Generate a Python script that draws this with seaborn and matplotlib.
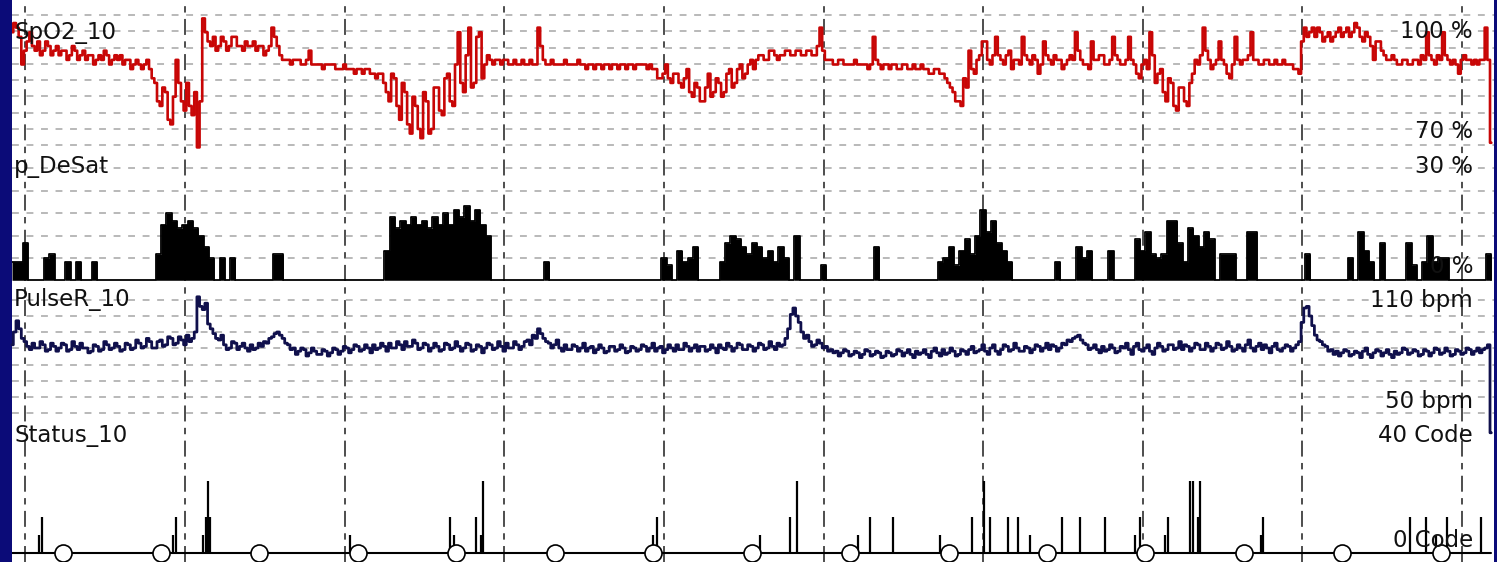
import numpy as np
import pandas as pd
import matplotlib
matplotlib.use("Agg")
import matplotlib.pyplot as plt
import seaborn as sns

sns.set_theme(style="white")
plt.rcParams['font.family'] = ['DejaVu Sans']

# ---- oximetry traces, one sample per minute ----
spo2 = [
    95, 97, 96, 94, 88, 91, 93, 95, 92, 91,
    93, 90, 91, 93, 92, 90, 91, 92, 90, 91,
    91, 89, 90, 92, 91, 89, 90, 91, 89, 90,
    90, 88, 89, 90, 89, 91, 90, 88, 89, 90,
    89, 90, 88, 89, 89, 87, 88, 89, 88, 87,
    88, 89, 87, 85, 84, 80, 79, 83, 82, 76,
    75, 81, 89, 84, 80, 78, 84, 79, 77, 82,
    70, 80, 98, 95, 93, 92, 94, 91, 92, 94,
    93, 91, 92, 94, 94, 92, 92, 91, 93, 92,
    92, 93, 91, 92, 92, 90, 91, 92, 96, 94,
    92, 90, 89, 89, 89, 88, 89, 89, 89, 88,
    88, 89, 91, 88, 88, 88, 88, 87, 88, 88,
    88, 88, 87, 87, 87, 88, 87, 87, 87, 86,
    87, 87, 86, 87, 87, 86, 86, 85, 86, 86,
    84, 82, 80, 86, 85, 79, 76, 84, 82, 75,
    73, 81, 79, 74, 72, 82, 80, 73, 74, 83,
    83, 78, 77, 85, 86, 80, 79, 88, 95, 84,
    82, 90, 96, 83, 84, 94, 95, 85, 88, 90,
    89, 88, 89, 89, 88, 89, 89, 88, 88, 89,
    88, 88, 89, 88, 88, 89, 88, 88, 96, 92,
    89, 88, 88, 89, 88, 88, 88, 88, 89, 88,
    88, 88, 88, 89, 88, 88, 87, 88, 88, 87,
    88, 88, 87, 88, 88, 87, 88, 88, 87, 88,
    88, 87, 88, 88, 87, 88, 88, 88, 88, 87,
    88, 87, 87, 85, 85, 86, 88, 85, 84, 86,
    86, 84, 83, 85, 87, 82, 81, 84, 83, 80,
    80, 83, 86, 81, 82, 85, 84, 81, 82, 86,
    87, 83, 84, 87, 88, 85, 86, 88, 89, 87,
    89, 90, 90, 89, 89, 91, 91, 90, 89, 90,
    90, 91, 91, 90, 90, 91, 91, 90, 90, 91,
    91, 90, 90, 92, 96, 91, 89, 89, 89, 88,
    88, 89, 89, 88, 88, 88, 88, 89, 88, 88,
    88, 88, 87, 88, 94, 89, 88, 87, 88, 88,
    87, 88, 88, 87, 87, 88, 88, 87, 87, 88,
    87, 87, 88, 87, 87, 86, 86, 87, 87, 86,
    86, 85, 84, 83, 82, 80, 80, 79, 85, 83,
    91, 87, 86, 89, 90, 93, 93, 89, 88, 90,
    94, 90, 89, 88, 90, 91, 87, 89, 89, 88,
    94, 90, 89, 88, 90, 89, 86, 88, 93, 90,
    89, 88, 90, 89, 89, 87, 88, 89, 90, 89,
    95, 91, 89, 88, 88, 87, 93, 89, 89, 90,
    90, 88, 88, 89, 94, 90, 89, 88, 88, 89,
    94, 89, 88, 86, 85, 88, 89, 87, 95, 90,
    84, 86, 87, 82, 80, 85, 84, 79, 78, 83,
    83, 80, 79, 84, 86, 89, 88, 90, 96, 91,
    89, 87, 88, 89, 93, 89, 88, 86, 85, 88,
    94, 89, 88, 89, 89, 90, 95, 89, 89, 88,
    88, 89, 89, 88, 88, 89, 88, 88, 89, 88,
    88, 88, 87, 87, 86, 93, 96, 94, 95, 96,
    94, 96, 95, 93, 94, 95, 93, 94, 95, 96,
    94, 95, 96, 94, 95, 97, 96, 94, 93, 95,
    94, 92, 89, 93, 93, 91, 90, 89, 89, 90,
    89, 88, 88, 89, 89, 88, 88, 89, 89, 88,
    90, 89, 95, 90, 89, 88, 90, 89, 95, 90,
    89, 88, 89, 88, 86, 89, 90, 89, 89, 88,
    89, 88, 89, 89, 96, 89, 71,
]

pulse = [
    82, 90, 97, 92, 86, 84, 81, 79, 83, 80,
    80, 84, 82, 78, 79, 83, 81, 78, 80, 83,
    82, 78, 79, 84, 81, 79, 83, 80, 80, 77,
    78, 82, 81, 78, 79, 84, 82, 79, 80, 83,
    81, 78, 79, 83, 82, 79, 80, 85, 83, 80,
    81, 86, 84, 80, 80, 84, 85, 81, 82, 87,
    86, 82, 83, 87, 85, 82, 88, 84, 86, 90,
    112, 106, 104, 108, 95, 92, 89, 86, 85, 88,
    82, 79, 80, 84, 83, 79, 81, 83, 80, 78,
    82, 79, 80, 83, 81, 84, 83, 86, 87, 89,
    90, 88, 86, 83, 82, 79, 80, 76, 78, 80,
    79, 75, 77, 80, 78, 76, 76, 79, 78, 75,
    77, 80, 79, 76, 78, 81, 80, 77, 79, 82,
    81, 78, 79, 82, 80, 77, 82, 79, 80, 83,
    81, 78, 83, 80, 80, 84, 82, 79, 84, 81,
    81, 85, 83, 79, 80, 83, 82, 78, 80, 83,
    81, 78, 79, 83, 82, 79, 80, 84, 81, 78,
    80, 83, 82, 78, 79, 82, 81, 77, 80, 83,
    82, 79, 80, 84, 81, 78, 83, 80, 80, 84,
    82, 79, 81, 84, 85, 82, 88, 86, 92, 89,
    86, 84, 83, 80, 82, 85, 80, 78, 82, 79,
    79, 82, 81, 78, 80, 83, 78, 80, 81, 77,
    79, 82, 80, 77, 78, 81, 81, 78, 79, 82,
    80, 77, 78, 81, 80, 78, 79, 82, 81, 78,
    80, 83, 78, 80, 81, 77, 79, 82, 80, 78,
    82, 79, 79, 83, 81, 78, 80, 82, 78, 81,
    81, 78, 79, 82, 80, 77, 82, 80, 79, 83,
    81, 78, 80, 83, 82, 79, 79, 82, 81, 78,
    80, 83, 82, 79, 80, 84, 81, 79, 83, 81,
    82, 86, 92, 101, 105, 100, 96, 90, 86, 88,
    84, 81, 82, 85, 83, 80, 81, 78, 79, 77,
    78, 75, 77, 79, 78, 75, 76, 78, 77, 74,
    76, 79, 78, 75, 76, 78, 77, 74, 75, 78,
    77, 75, 76, 79, 78, 75, 77, 79, 76, 74,
    78, 76, 77, 79, 76, 74, 78, 80, 77, 75,
    79, 76, 77, 80, 78, 75, 76, 79, 78, 76,
    79, 81, 77, 78, 79, 82, 78, 76, 80, 82,
    78, 76, 79, 82, 81, 78, 79, 83, 80, 78,
    78, 81, 80, 77, 79, 82, 81, 78, 80, 83,
    79, 82, 81, 78, 80, 83, 82, 85, 84, 86,
    87, 88, 85, 83, 82, 79, 80, 82, 79, 77,
    81, 78, 79, 82, 80, 77, 78, 81, 80, 83,
    79, 76, 81, 83, 79, 78, 80, 82, 78, 76,
    80, 83, 81, 78, 79, 82, 82, 79, 80, 84,
    79, 82, 81, 78, 80, 83, 82, 79, 79, 83,
    81, 78, 80, 83, 82, 79, 80, 84, 81, 78,
    79, 82, 80, 78, 82, 85, 80, 78, 81, 83,
    79, 82, 80, 77, 81, 83, 79, 78, 80, 82,
    81, 78, 80, 82, 84, 96, 105, 106, 100, 94,
    88, 85, 84, 82, 81, 78, 79, 76, 78, 75,
    77, 79, 78, 75, 76, 78, 77, 74, 78, 80,
    76, 74, 77, 79, 78, 75, 77, 79, 76, 74,
    78, 76, 77, 80, 79, 76, 77, 79, 78, 75,
    76, 79, 78, 75, 77, 80, 79, 76, 77, 80,
    78, 75, 76, 79, 78, 76, 77, 80, 79, 76,
    78, 80, 77, 79, 80, 82, 27,
]

# desaturation percentage, one value per 2 minutes
DESAT_STEP = 2
desat = [
    5, 5, 10, 0, 0, 0, 6, 7, 0, 0,
    5, 0, 5, 0, 0, 5, 0, 0, 0, 0,
    0, 0, 0, 0, 0, 0, 0, 7, 15, 18,
    16, 14, 15, 16, 14, 12, 9, 6, 0, 6,
    0, 6, 0, 0, 0, 0, 0, 0, 0, 7,
    7, 0, 0, 0, 0, 0, 0, 0, 0, 0,
    0, 0, 0, 0, 0, 0, 0, 0, 0, 0,
    8, 17, 14, 16, 15, 17, 15, 16, 14, 17,
    15, 18, 15, 19, 17, 20, 16, 19, 15, 12,
    0, 0, 0, 0, 0, 0, 0, 0, 0, 0,
    5, 0, 0, 0, 0, 0, 0, 0, 0, 0,
    0, 0, 0, 0, 0, 0, 0, 0, 0, 0,
    0, 0, 6, 4, 0, 8, 5, 6, 9, 0,
    0, 0, 0, 5, 10, 12, 11, 9, 7, 10,
    9, 6, 8, 5, 9, 6, 0, 12, 0, 0,
    0, 0, 4, 0, 0, 0, 0, 0, 0, 0,
    0, 0, 9, 0, 0, 0, 0, 0, 0, 0,
    0, 0, 0, 0, 5, 6, 9, 4, 8, 11,
    7, 12, 19, 13, 16, 10, 8, 5, 0, 0,
    0, 0, 0, 0, 0, 0, 5, 0, 0, 0,
    9, 6, 8, 0, 0, 0, 8, 0, 0, 0,
    0, 11, 8, 13, 7, 6, 7, 16, 16, 10,
    5, 14, 12, 9, 13, 11, 0, 7, 7, 7,
    0, 0, 13, 13, 0, 0, 0, 0, 0, 0,
    0, 0, 0, 7, 0, 0, 0, 0, 0, 0,
    0, 6, 0, 13, 8, 5, 0, 10, 0, 0,
    0, 0, 10, 4, 0, 5, 12, 5, 6, 6,
    0, 0, 0, 0, 0, 0, 0, 7, 0,
]

# status events: minute of the event and its code
status_t = [10.1, 11.3, 60.5, 61.6, 71.8, 72.9, 73.7, 74.4, 127.0,
            164.6, 166.1, 174.4, 176.2, 177.0, 240.9, 242.4,
            281.1, 292.4, 295.0, 317.9, 322.4, 331.0,
            348.7, 360.7, 365.3, 367.5, 374.3, 378.0, 382.5,
            394.6, 401.3, 410.7, 422.0, 423.9,
            433.3, 434.4, 442.7, 443.8, 445.7, 446.4, 469.3, 470.1,
            525.3, 531.4, 535.1, 539.2, 552.3]
status_code = [6, 12, 6, 12, 6, 12, 24, 12, 6,
               12, 6, 12, 6, 24, 6, 12,
               6, 12, 24, 6, 12, 12,
               6, 12, 24, 12, 12, 12, 6,
               12, 12, 12, 6, 12,
               6, 12, 24, 24, 12, 24, 6, 12,
               12, 12, 6, 12, 12]

# periodic markers on the status line (minutes)
marker_t = [19, 56, 93, 130, 167, 204, 241, 278, 315, 352, 389, 426, 463, 500, 537]
# hour divisions (minutes)
hour_t = [5, 65, 125, 185, 245, 305, 365, 425, 485, 545]

T_END = 557

df = pd.DataFrame({"t": np.arange(len(spo2)), "spo2": spo2, "pulse": pulse})
dd = pd.DataFrame({"t": np.arange(len(desat)) * DESAT_STEP, "desat": desat})

# ---- figure layout in pixels ----
W, H = 1497, 562
BG_BLUE = "#0b0b78"
fig = plt.figure(figsize=(W / 100, H / 100), dpi=100, facecolor=BG_BLUE)


def px_axes(x0, y0, x1, y1, **kw):
    return fig.add_axes([x0 / W, 1 - y1 / H, (x1 - x0) / W, (y1 - y0) / H], **kw)


def clean(ax, transparent=True):
    ax.set_xlim(0, T_END)
    ax.set_xticks([])
    ax.set_yticks([])
    ax.set_xlabel("")
    ax.set_ylabel("")
    for s in ax.spines.values():
        s.set_visible(False)
    if transparent:
        ax.patch.set_alpha(0)


X0, X1 = 12, 1494
bg = px_axes(X0, 0, X1, H)
bg.set_facecolor("white")
clean(bg, transparent=False)
bg.set_ylim(0, 1)
for ht in hour_t:
    bg.axvline(ht, color="#262626", lw=1.15, dashes=(10, 4, 4, 4), zorder=1)

GRID_KW = dict(color="#a6a6a6", lw=1.1, dashes=(4.5, 5.0))


def grid_rows(ax, top, bottom, rows):
    for r in rows:
        f = 1 - (r - top) / (bottom - top)
        ax.plot([0, 1], [f, f], transform=ax.transAxes, zorder=0, **GRID_KW)


# --- SpO2 panel ---
ax1 = px_axes(X0, 0, X1, 152)
sns.lineplot(data=df, x="t", y="spo2", ax=ax1, color="#c80606", lw=1.9,
             drawstyle="steps-mid", estimator=None, zorder=3)
ax1.set_ylim(69, 102)
grid_rows(ax1, 0, 152, np.linspace(15, 145, 9))
clean(ax1)

# --- desaturation panel ---
ax2 = px_axes(X0, 152, X1, 284)
ax2.fill_between(dd["t"], dd["desat"], step="post", color="black", lw=0, zorder=3)
sns.lineplot(data=dd, x="t", y="desat", ax=ax2, color="black", lw=1.3,
             drawstyle="steps-post", estimator=None, zorder=4)
ax2.set_ylim(-1, 34.5)
grid_rows(ax2, 152, 284, np.linspace(168, 258, 5))
clean(ax2)

# --- pulse panel ---
ax3 = px_axes(X0, 284, X1, 420)
sns.lineplot(data=df, x="t", y="pulse", ax=ax3, color="#10104c", lw=2.0,
             drawstyle="steps-mid", estimator=None, zorder=3)
ax3.set_ylim(35, 120)
for ln in ax3.lines:
    ln.set_clip_on(False)
grid_rows(ax3, 284, 420, np.linspace(300, 413, 8))
clean(ax3)

# --- status panel ---
ax4 = px_axes(X0, 420, X1, H)
ax4.set_ylim(-3, 44.33)
ax4.plot([0, len(spo2) - 1], [0, 0], color="black", lw=1.5, zorder=3)
ax4.vlines(status_t, 0, status_code, colors="black", lw=1.6, zorder=3)
sns.scatterplot(x=marker_t, y=[0] * len(marker_t), ax=ax4, s=150, marker="o",
                facecolor="white", edgecolor="black", linewidth=1.2, zorder=5)
clean(ax4)

# ---- channel captions and scale labels ----
TXT = dict(fontsize=16.5, color="#111111", va="baseline")


def label(x, y, s, ha):
    fig.text(x / W, 1 - y / H, s, ha=ha, zorder=10, **TXT)


label(14, 39, "SpO2_10", "left")
label(14, 173, "p_DeSat", "left")
label(14, 306, "PulseR_10", "left")
label(14, 442, "Status_10", "left")

RX = 1473
label(RX, 38, "100 %", "right")
label(RX, 138, "70 %", "right")
label(RX, 173, "30 %", "right")
label(RX, 273, "0 %", "right")
label(RX, 307, "110 bpm", "right")
label(RX, 408, "50 bpm", "right")
label(RX, 442, "40 Code", "right")
label(RX, 547, "0 Code", "right")

fig.savefig("out.png", dpi=100, facecolor=BG_BLUE)
